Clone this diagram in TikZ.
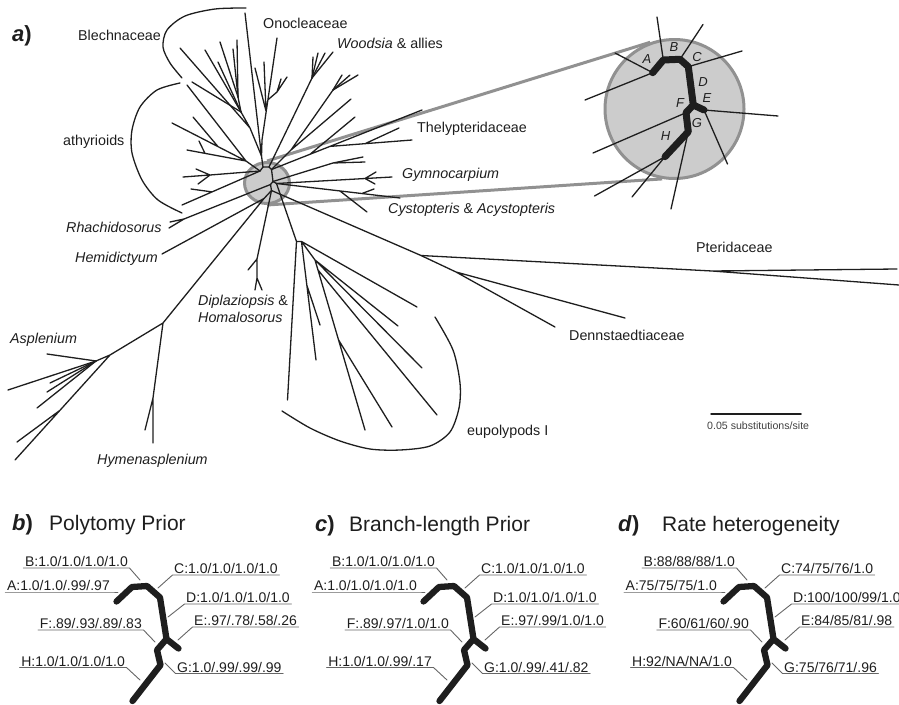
\documentclass[tikz,border=0pt]{standalone}
\usepackage{fontspec}
\setmainfont{Liberation Sans}
\usetikzlibrary{shapes.geometric,backgrounds}
\definecolor{zoomfill}{RGB}{204,204,204}
\definecolor{zoomedge}{RGB}{145,145,145}
\definecolor{ink}{RGB}{30,30,30}
% underlined support value, text left of its leader
\newcommand\llab[4]{%
  \node[val,anchor=base east] (#1) at (#2) {#4};
  \draw[uline] ([yshift=-1.5pt]#1.base west) -- ([yshift=-1.5pt]#1.base east) -- (#3);}
% underlined support value, text right of its leader
\newcommand\rlab[4]{%
  \node[val,anchor=base west] (#1) at (#2) {#4};
  \draw[uline] ([yshift=-1.5pt]#1.base east) -- ([yshift=-1.5pt]#1.base west) -- (#3);}
% backbone of panels b-d
\newcommand\suppath{%
  \draw[support] (116.5,601.5) -- (132,587) -- (147,586) -- (160,597.5) -- (166.5,639) -- (178.5,648.5)
    (166.5,639) -- (157,650) -- (160.5,665) -- (132.5,701);}
\newcommand\vals[9]{%
  \llab{#1A}{111.5,590.5}{118,592}{#2}
  \llab{#1B}{129.5,566.5}{140,580}{#3}
  \rlab{#1C}{172.5,573.5}{158,588}{#4}
  \rlab{#1D}{184.5,602.5}{168,617}{#5}
  \rlab{#1E}{192.5,625.5}{178,640}{#6}
  \llab{#1F}{143.5,628.5}{155,642}{#7}
  \rlab{#1G}{175.5,672}{165,663}{#8}
  \llab{#1H}{126.5,666}{140,680}{#9}}
\begin{document}
\begin{tikzpicture}[x=1pt, y=-1pt, line join=round, line cap=round,
  branch/.style={line width=1.3pt, draw=ink},
  support/.style={line width=6.3pt, draw=ink},
  bracket/.style={line width=1.3pt, draw=ink},
  zoomarea/.style={draw=zoomedge, fill=zoomfill, line width=3pt, inner sep=0pt},
  zoomlink/.style={draw=zoomedge, line width=3pt},
  taxon/.style={font=\fontsize{14.3}{16}\selectfont, text=ink, inner sep=0pt, anchor=base west},
  inlab/.style={font=\fontsize{13}{15}\selectfont\itshape, text=ink, inner sep=0pt},
  val/.style={font=\fontsize{14}{16}\selectfont, text=ink, inner xsep=1.5pt, inner ysep=0pt},
  uline/.style={draw=black!60, line width=0.9pt},
  title/.style={font=\fontsize{21}{24}\selectfont, text=ink, inner sep=0pt, anchor=base west}]
\useasboundingbox (0,0) rectangle (899,704);

% zoomed area
\node[zoomarea, ellipse, minimum width=45pt, minimum height=41pt] (zs) at (267,183) {};
\node[zoomarea, circle, minimum size=139pt] (zb) at (674.5,109) {};
\begin{pgfonlayer}{background}
  \draw[zoomlink] (zs.north) -- (zb.110) (zs.south) -- (zb.260);
\end{pgfonlayer}

% centre of the tree
\coordinate (nA) at (260,171);   \coordinate (nB1) at (263,167);
\coordinate (nB2) at (269,167);  \coordinate (nC) at (271.5,169.5);
\coordinate (nD) at (273,181.5); \coordinate (nE) at (276.5,183.5);
\coordinate (nF) at (270.5,184.5); \coordinate (nG) at (271.5,190.5);
\coordinate (nH) at (264,198.5);
\draw[branch] (nA) -- (nB1) -- (nB2) -- (nC) -- (nD) -- (nE) (nD) -- (nF) -- (nG) -- (nH);

% Blechnaceae, Onocleaceae
\coordinate (up) at (261.5,156); \coordinate (bl) at (250,128);
\coordinate (bl2) at (241,112);  \coordinate (bl3) at (238,97);
\draw[branch] (nB1) -- (up) -- (245,13) (up) -- (bl) -- (180,48) (bl) -- (bl2) -- (bl3);
\foreach \p in {(205,50),(192,82),(218,62)} \draw[branch] (bl2) -- \p;
\foreach \p in {(220,42),(233,49),(237,40)} \draw[branch] (bl3) -- \p;
\coordinate (on) at (262,140); \coordinate (on2) at (266,111);
\coordinate (on3) at (267.7,100); \coordinate (on4) at (277,92);
\draw[branch] (up) -- (on) -- (277,38) (on2) -- (255,68) (on2) -- (264,62)
  (on3) -- (on4) -- (287,77) (on4) -- (281,79);

% Woodsia & allies
\coordinate (wa) at (312,78); \coordinate (t0) at (291,150); \coordinate (wb) at (333,90);
\draw[branch] (nB2) -- (wa) (nC) -- (t0) -- (wb) (t0) -- (351,99);
\foreach \p in {(313,57),(318,53),(325,53),(333,52)} \draw[branch] (wa) -- \p;
\foreach \p in {(342,75),(350,75),(358,75)} \draw[branch] (wb) -- \p;

% Thelypteridaceae
\coordinate (th0) at (310,154.3); \coordinate (th1) at (330,146.4); \coordinate (th2) at (365,143.7);
\draw[branch] (nC) -- (422,110) (th1) -- (412,140) (th2) -- (399,128) (th0) -- (355,117);
\coordinate (sm) at (333,163);
\draw[branch] (nD) -- (sm) -- (363,157) (sm) -- (365,162);

% Gymnocarpium, Cystopteris
\coordinate (gy) at (365,178.5);
\draw[branch] (nE) -- (392,177) (gy) -- (376,172) (gy) -- (375,184);
\coordinate (cy) at (340,191); \coordinate (cy2) at (362,193.5);
\draw[branch] (nE) -- (400,198) (cy) -- (367,212) (cy2) -- (374,189);

% Pteridaceae, Dennstaedtiaceae
\coordinate (pq) at (421,255.5); \coordinate (pt) at (712,271); \coordinate (dn) at (456,272);
\draw[branch] (nG) -- (pq) -- (pt) -- (897,269) (pt) -- (899,285);
\draw[branch] (pq) -- (dn) -- (555,327) (dn) -- (625,318);

% eupolypods I
\coordinate (ep0) at (296.5,241.5); \coordinate (ep) at (301.5,241.5);
\coordinate (epa) at (306.8,285);   \coordinate (epb) at (315,260);
\coordinate (epc) at (318,270);     \coordinate (epd) at (338.6,340);
\draw[branch] (nE) -- (ep0) -- (287.5,400) (ep0) -- (ep) -- (316,360) (ep) -- (417,307)
  (ep) -- (epb) -- (398,326) (epb) -- (422,368) (epb) -- (epc) -- (437,415)
  (epc) -- (365,430) (epa) -- (320,325) (epd) -- (392,427);
\draw[bracket] plot[smooth] coordinates {(282,411) (310,428) (340,441) (370,449) (400,450)
  (430,446) (450,432) (459,408) (460,383) (453,350) (435,317)};

% Diplaziopsis
\coordinate (dp) at (257,259); \coordinate (dp2) at (257,278);
\draw[branch] (nG) -- (dp) -- (248,270) (dp) -- (dp2) -- (255,290) (dp2) -- (262,290);

% Asplenium, Hemidictyum, Rhachidosorus
\coordinate (as1) at (163,323); \coordinate (as2) at (110,355);
\coordinate (as3) at (96,361);  \coordinate (as4) at (60,410.3);
\coordinate (hy) at (153,398);
\draw[branch] (nH) -- (as1) -- (as2) -- (15,460) (as1) -- (hy) -- (145,430) (hy) -- (153,443)
  (as2) -- (as3) (as4) -- (17,442) (nH) -- (162,254);
\foreach \p in {(47,354),(8,390),(50,383),(47,392),(37,408)} \draw[branch] (as3) -- \p;
\coordinate (rh) at (184,219);
\draw[branch] (nF) -- (rh) -- (169,228) (rh) -- (170,222);

% athyrioids
\coordinate (at1) at (246,161); \coordinate (at1t) at (218,146.6);
\coordinate (at1p) at (205,153.4); \coordinate (at3) at (210,175); \coordinate (at4) at (212,191.9);
\draw[branch] (nA) -- (at1) -- (172,123) (at1t) -- (193,117) (at1) -- (187,85)
  (at1) -- (187,150) (at1p) -- (199,141);
\draw[branch] (nA) -- (at3) -- (183,177) (at3) -- (196,169) (at3) -- (198,184);
\draw[branch] (nA) -- (182,205) (at4) -- (191,189);
\draw[bracket] plot[smooth] coordinates {(246,8) (215,9) (185,16) (167,30) (163,47) (170,63) (182,78)};
\draw[bracket] plot[smooth] coordinates {(180,83) (157,90) (140,107) (132,130) (132,153)
  (142,180) (158,200) (182,213)};

% enlarged centre
\coordinate (iA) at (652.7,72.7); \coordinate (iB1) at (663.3,60);
\coordinate (iB2) at (680,59.3);  \coordinate (iC) at (688.3,66.7);
\coordinate (iD) at (693.3,105);  \coordinate (iE) at (704,110);
\coordinate (iF) at (686,112.7);  \coordinate (iG) at (688.3,131.7);
\coordinate (iH) at (665,156.7);
\draw[branch] (iA) -- (615,53) (iA) -- (585,100) (iB1) -- (657,17) (iB2) -- (703,24.5)
  (iC) -- (742,51) (iE) -- (778,116) (iE) -- (727.5,164) (iF) -- (593,153)
  (iG) -- (671,209) (iH) -- (594.5,196) (iH) -- (632,197);
\draw[support, line width=7pt] (iA) -- (iB1) -- (iB2) -- (iC) -- (iD) -- (iE) (iD) -- (iF) -- (iG) -- (iH);
\node[inlab] (lA) at (647,59) {A};   \node[inlab] (lB) at (674,47.5) {B};
\node[inlab] (lC) at (697,57.5) {C}; \node[inlab] (lD) at (703,82) {D};
\node[inlab] (lE) at (707,98.5) {E}; \node[inlab] (lF) at (680,103.5) {F};
\node[inlab] (lG) at (697,123) {G};  \node[inlab] (lH) at (665.5,136) {H};

% labels of the tree
\node[title, font=\fontsize{22}{24}\selectfont\bfseries\itshape] (pa) at (12,41) {a\/\upshape)};
\node[taxon] (tBle) at (78,40) {Blechnaceae};
\node[taxon] (tOno) at (263,28.5) {Onocleaceae};
\node[taxon] (tWoo) at (337,48) {\textit{Woodsia} \& allies};
\node[taxon] (tAth) at (63,145) {athyrioids};
\node[taxon] (tThe) at (417,132) {Thelypteridaceae};
\node[taxon] (tGym) at (402,178) {\textit{Gymnocarpium}};
\node[taxon] (tCys) at (388,213) {\textit{Cystopteris} \& \textit{Acystopteris}};
\node[taxon] (tRha) at (66,232) {\textit{Rhachidosorus}};
\node[taxon] (tHem) at (75,262) {\textit{Hemidictyum}};
\node[taxon] (tDip) at (198,305) {\textit{Diplaziopsis} \&};
\node[taxon] (tHom) at (198,322) {\textit{Homalosorus}};
\node[taxon] (tAsp) at (10,343) {\textit{Asplenium}};
\node[taxon] (tHym) at (97,464) {\textit{Hymenasplenium}};
\node[taxon] (tPte) at (696,252) {Pteridaceae};
\node[taxon] (tDen) at (569,340) {Dennstaedtiaceae};
\node[taxon] (tEup) at (467,435) {eupolypods I};
\draw[line width=1.5pt, draw=ink] (711,414) -- (801,414);
\node[taxon, font=\fontsize{10.6}{12}\selectfont, text=black!75] (scl) at (707,429) {0.05 substitutions/site};

% panels b-d
\node[title, font=\fontsize{22}{24}\selectfont\bfseries\itshape] (pb) at (12,530) {b\/\upshape)};
\node[title] (tb) at (49,530) {Polytomy Prior};
\node[title, font=\fontsize{22}{24}\selectfont\bfseries\itshape] (pc) at (315,531) {c\/\upshape)};
\node[title] (tc) at (349,531) {Branch-length Prior};
\node[title, font=\fontsize{22}{24}\selectfont\bfseries\itshape] (pd) at (618,531) {d\/\upshape)};
\node[title] (td) at (662,531) {Rate heterogeneity};

\suppath
\vals{b}{A:1.0/1.0/.99/.97}{B:1.0/1.0/1.0/1.0}{C:1.0/1.0/1.0/1.0}{D:1.0/1.0/1.0/1.0}
  {E:.97/.78/.58/.26}{F:.89/.93/.89/.83}{G:1.0/.99/.99/.99}{H:1.0/1.0/1.0/1.0}
\begin{scope}[xshift=307pt]
  \suppath
  \vals{c}{A:1.0/1.0/1.0/1.0}{B:1.0/1.0/1.0/1.0}{C:1.0/1.0/1.0/1.0}{D:1.0/1.0/1.0/1.0}
    {E:.97/.99/1.0/1.0}{F:.89/.97/1.0/1.0}{G:1.0/.99/.41/.82}{H:1.0/1.0/.99/.17}
\end{scope}
\begin{scope}[xshift=607pt]
  \suppath
  \vals{d}{A:75/75/75/1.0}{B:88/88/88/1.0}{C:74/75/76/1.0}{D:100/100/99/1.0}
    {E:84/85/81/.98}{F:60/61/60/.90}{G:75/76/71/.96}{H:92/NA/NA/1.0}
\end{scope}
\end{tikzpicture}
\end{document}
